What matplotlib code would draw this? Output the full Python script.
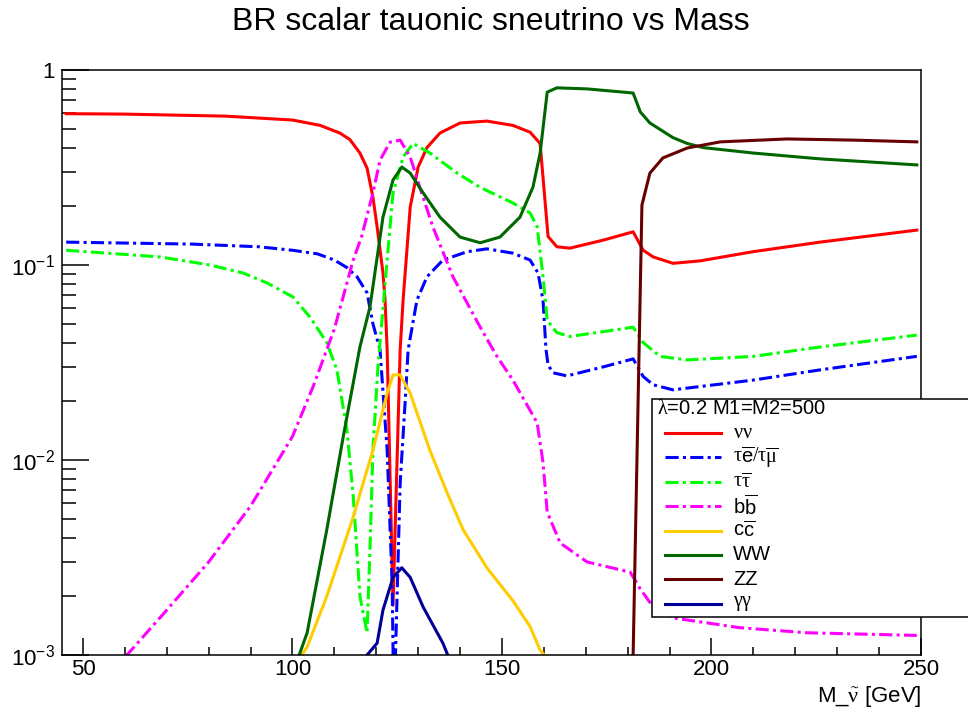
import matplotlib
matplotlib.use('Agg')
import matplotlib.pyplot as plt
import numpy as np
from matplotlib.ticker import FixedLocator, FuncFormatter, NullFormatter, MultipleLocator
from matplotlib.lines import Line2D
from matplotlib.patches import Rectangle

plt.rcParams['font.family'] = ['Liberation Sans', 'DejaVu Sans']
plt.rcParams['mathtext.fontset'] = 'custom'
plt.rcParams['mathtext.rm'] = 'Liberation Serif'
plt.rcParams['mathtext.it'] = 'Liberation Serif:italic'
plt.rcParams['mathtext.bf'] = 'Liberation Serif:bold'
plt.rcParams['mathtext.sf'] = 'Liberation Sans'
plt.rcParams['mathtext.default'] = 'rm'

# ---------------- data ----------------
nunu_x = [46, 60, 84, 100, 106.6, 111.3, 113.7, 116.1, 117.8, 119.2, 120.2, 121.6, 122.1, 122.6,
          124.0, 125.7, 126.4, 128.1, 130.0, 132.1, 135.2, 140.0, 146.4, 152.6, 156.7, 159.1,
          161.0, 163.1, 166.2, 174.1, 181.3, 183.7, 186.1, 190.8, 197.3, 209.9, 225.9, 249]
nunu_y = [0.597, 0.594, 0.58, 0.554, 0.52, 0.475, 0.44, 0.375, 0.314, 0.223, 0.157, 0.091, 0.066, 0.0367,
          0.0018, 0.0367, 0.066, 0.198, 0.318, 0.40, 0.475, 0.535, 0.547, 0.52, 0.48, 0.42,
          0.14, 0.124, 0.122, 0.134, 0.148, 0.119, 0.11, 0.102, 0.105, 0.117, 0.131, 0.151]

temu_x = [46, 76, 92, 100, 106, 110, 113, 115.4, 117.8, 119.2, 120.9, 122.6, 123.8, 124.2, 125.7, 126.9,
          127.6, 129.7, 132.1, 135.9, 141.7, 146.4, 152.6, 156.7, 158.6, 159.8, 160.5, 161.0, 162.2,
          165.5, 174.1, 181.3, 183.7, 186.1, 190.8, 210, 226, 249]
temu_y = [0.131, 0.128, 0.124, 0.119, 0.114, 0.106, 0.097, 0.087, 0.072, 0.05, 0.0367, 0.0112, 0.0023, 0.0005,
          0.0076, 0.020, 0.0367, 0.066, 0.087, 0.106, 0.117, 0.121, 0.115, 0.106, 0.091, 0.066, 0.037,
          0.0307, 0.028, 0.027, 0.030, 0.033, 0.0268, 0.0243, 0.0229, 0.0257, 0.029, 0.034]

tautau_x = [46, 68.4, 80.3, 88.2, 93.9, 100.1, 104.2, 108.2, 110.6, 113.0, 114.5, 116.1, 117.8, 118.5,
            119.2, 120.4, 122.6, 124.0, 126.4, 128.8, 132.8, 139.3, 144.8, 152.6, 156.7, 158.4, 159.8,
            160.8, 163.1, 166.2, 174.1, 181.3, 183.7, 187.7, 194.2, 210, 226, 249]
tautau_y = [0.119, 0.11, 0.10, 0.091, 0.081, 0.0686, 0.054, 0.040, 0.029, 0.0143, 0.0065, 0.002, 0.0013,
            0.0035, 0.0112, 0.030, 0.106, 0.234, 0.358, 0.42, 0.375, 0.296, 0.25, 0.208, 0.185, 0.157,
            0.087, 0.052, 0.045, 0.043, 0.0455, 0.048, 0.040, 0.034, 0.0326, 0.034, 0.038, 0.0437]

bb_x = [46, 60.5, 70, 80, 90, 100, 105, 110, 114.5, 116.5, 119.2, 120.9, 123.3, 125.7, 128.1,
        130.4, 133.5, 138.3, 144.8, 148.8, 152.6, 158.4, 159.8, 160.8, 163.9, 170.3, 180.6, 182.9,
        186.1, 190.8, 206.8, 222.8, 249]
bb_y = [0.0004, 0.001, 0.0017, 0.003, 0.0058, 0.0132, 0.024, 0.047, 0.106, 0.14, 0.234, 0.345, 0.427,
        0.437, 0.358, 0.25, 0.157, 0.087, 0.048, 0.034, 0.0257, 0.0155, 0.0097, 0.0054, 0.00375, 0.003,
        0.00266, 0.0022, 0.00176, 0.00155, 0.00138, 0.0013, 0.00126]

cc_x = [100, 103.5, 108.2, 114.5, 116.1, 119.2, 122.6, 124.0, 125.7, 128.1, 132.8, 136.9, 140.7,
        146.4, 152.6, 156.7, 159.1, 161.0, 162.0]
cc_y = [0.00085, 0.0011, 0.002, 0.0051, 0.0067, 0.0112, 0.022, 0.0273, 0.0273, 0.022, 0.0112, 0.0068,
        0.0044, 0.0028, 0.0019, 0.0014, 0.00106, 0.00095, 0.0002]

ww_x = [100, 103.5, 108.2, 112.1, 116.1, 118.5, 121.6, 124.0, 126.1, 128.1, 131.2, 135.2, 140.0,
        144.8, 149.5, 154.3, 157.4, 159.1, 160.8, 163.1, 170.3, 181.3, 183.0, 185.3, 190.8, 194.2,
        198, 210, 226, 249]
ww_y = [0.0008, 0.0013, 0.0044, 0.0131, 0.038, 0.061, 0.176, 0.273, 0.318, 0.296, 0.234, 0.176, 0.139,
        0.13, 0.139, 0.176, 0.251, 0.375, 0.77, 0.81, 0.80, 0.762, 0.61, 0.535, 0.45, 0.42,
        0.40, 0.375, 0.35, 0.326]

zz_x = [181.0, 183.4, 185.3, 188.4, 194.2, 202.1, 218, 233.8, 249]
zz_y = [0.00047, 0.203, 0.296, 0.354, 0.398, 0.428, 0.443, 0.437, 0.428]

gg_x = [116.0, 120.2, 121.6, 124.0, 126.1, 128.1, 131.2, 135.9, 140.0]
gg_y = [0.0009, 0.00115, 0.0017, 0.0025, 0.0028, 0.0025, 0.00176, 0.00115, 0.0007]

labels = [r'$\nu\nu$', r'$\tau\overline{\mathsf{e}}/\tau\overline{\mu}$', r'$\tau\overline{\tau}$',
          r'$\mathsf{b}\overline{\mathsf{b}}$', r'$\mathsf{c}\overline{\mathsf{c}}$', 'WW', 'ZZ',
          r'$\gamma\gamma$']
legend_title = r'$\lambda$=0.2 M1=M2=500'
x_ticks = [50, 100, 150, 200, 250]

# ---------------- style ----------------
DD = (0, (4.3, 1.4, 1.0, 1.4))
series = [
    (nunu_x, nunu_y, '#ff0000', '-'),
    (temu_x, temu_y, '#0000ff', DD),
    (tautau_x, tautau_y, '#00ff00', DD),
    (bb_x, bb_y, '#ff00ff', DD),
    (cc_x, cc_y, '#ffcc00', '-'),
    (ww_x, ww_y, '#006600', '-'),
    (zz_x, zz_y, '#660000', '-'),
    (gg_x, gg_y, '#000099', '-'),
]
LW = 2.2

W, H = 968, 714
fig = plt.figure(figsize=(W / 100, H / 100), dpi=100)
L, R, T, B = 62, 921, 70, 655
ax = fig.add_axes([L / W, 1 - B / H, (R - L) / W, (B - T) / H])

for (xs, ys, c, ls), lab in zip(series, labels):
    ax.plot(xs, ys, color=c, linestyle=ls, linewidth=LW, label=lab)

ax.set_yscale('log')
ax.set_xlim(45, 250)
ax.set_ylim(1e-3, 1)

ax.xaxis.set_major_locator(FixedLocator(x_ticks))
ax.xaxis.set_minor_locator(MultipleLocator(10))
ax.yaxis.set_major_locator(FixedLocator([1e-3, 1e-2, 1e-1, 1]))
minors = [m * 10.0 ** e for e in (-3, -2, -1) for m in range(2, 10)]
ax.yaxis.set_minor_locator(FixedLocator(minors))
ax.yaxis.set_minor_formatter(NullFormatter())

def yfmt(v, pos):
    if abs(v - 1) < 1e-9:
        return '1'
    e = int(round(np.log10(v)))
    return r'$\mathdefault{10^{%d}}$' % e

ax.yaxis.set_major_formatter(FuncFormatter(yfmt))
ax.tick_params(axis='both', which='both', direction='in', top=False, right=False,
               labelsize=16, width=1.1, color='black')
ax.tick_params(axis='x', which='major', length=12.2, pad=3)
ax.tick_params(axis='x', which='minor', length=6.1)
ax.tick_params(axis='y', which='major', length=19.4, pad=5)
ax.tick_params(axis='y', which='minor', length=10)
for s in ax.spines.values():
    s.set_linewidth(1.1)

# x label, right aligned
fig.text(R / W, 1 - 702 / H, r'M_$\tilde{\nu}$ [GeV]', ha='right', va='baseline', fontsize=16)

# title
fig.text(491 / W, 1 - 22 / H, 'BR scalar tauonic sneutrino vs Mass', ha='center', va='center',
         fontsize=23)

# legend drawn as a box in figure coordinates
bx0, by0, bx1, by1 = 652, 399, 975, 617
fig.patches.append(Rectangle((bx0 / W, 1 - by1 / H), (bx1 - bx0) / W, (by1 - by0) / H,
                             transform=fig.transFigure, facecolor='white', edgecolor='black',
                             linewidth=1.1, zorder=5, clip_on=False))
fig.text(657 / W, 1 - 409 / H, legend_title, ha='left', va='center', fontsize=14.5, zorder=6)
for i, ((xs, ys, c, ls), lab) in enumerate(zip(series, labels)):
    yy = 1 - (433 + i * 24.4) / H
    fig.lines.append(Line2D([665 / W, 721 / W], [yy, yy], transform=fig.transFigure, color=c,
                            linestyle=ls, linewidth=LW, zorder=6))
    fig.text(733 / W, yy, lab, ha='left', va='center', fontsize=14.5, zorder=6)

fig.savefig('out.png', dpi=100)
